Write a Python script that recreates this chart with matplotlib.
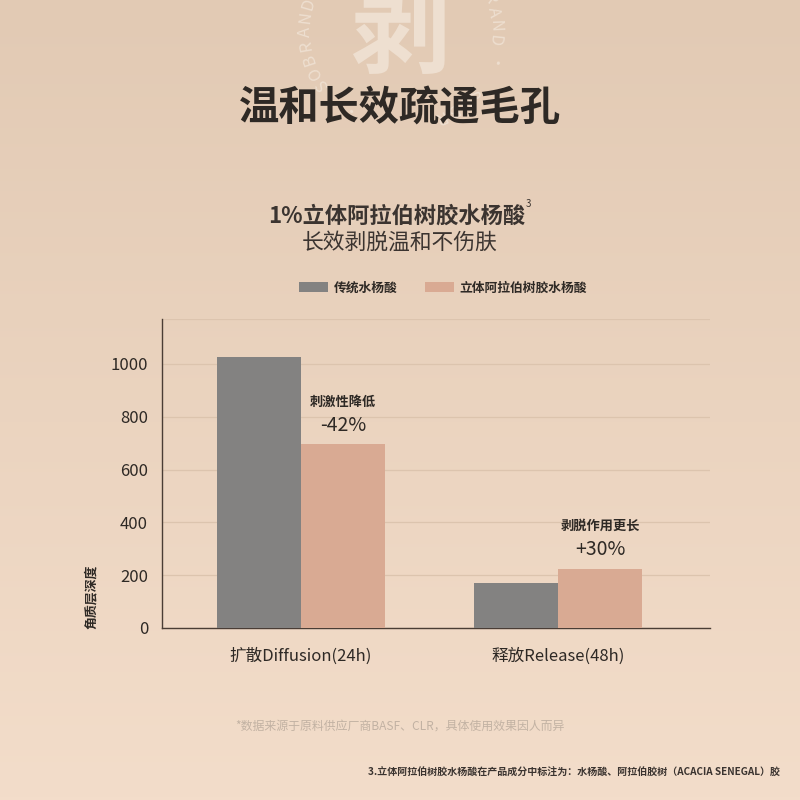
import matplotlib
matplotlib.use("Agg")
import matplotlib.pyplot as plt
import numpy as np

plt.rcParams['font.family'] = ['Noto Sans CJK SC', 'DejaVu Sans']

# data
groups = ["扩散Diffusion(24h)", "释放Release(48h)"]
series = ["传统水杨酸", "立体阿拉伯树胶水杨酸"]
traditional = [1025, 172]
arabic = [695, 224]
notes_top = ["刺激性降低", "剥脱作用更长"]
notes_pct = ["-42%", "+30%"]
yticks = [0, 200, 400, 600, 800, 1000]

gray = "#838281"
peach = "#d9aa93"
dark = "#2e2925"

fig = plt.figure(figsize=(8, 8), dpi=100)

# background gradient + decorations in pixel coords
bg = fig.add_axes([0, 0, 1, 1])
bg.set_xlim(0, 800)
bg.set_ylim(800, 0)
bg.axis("off")
top_c = np.array([226, 202, 180]) / 255
bot_c = np.array([243, 221, 202]) / 255
t = np.linspace(0, 1, 256)[:, None, None]
grad = top_c * (1 - t) + bot_c * t
grad = np.repeat(grad, 2, axis=1)
bg.imshow(grad, extent=[0, 800, 800, 0], aspect="auto", zorder=0)

# watermark (cut off at the top edge, like the original)
wm = "#eedfd0"
bg.text(400, 36, "剥", fontsize=72, fontweight="bold", color=wm,
        ha="center", va="center", zorder=1)
ring = "SOBRAND · "
cx, cy, r = 400, 30, 95
for i in range(-2, 34):
    th = np.deg2rad(215 - 8.5 * i)
    ch = ring[i % len(ring)]
    bg.text(cx + r * np.cos(th), cy - r * np.sin(th), ch, fontsize=12,
            color=wm, ha="center", va="center",
            rotation=np.rad2deg(th) - 90, zorder=1)

bg.text(400, 108, "温和长效疏通毛孔", fontsize=29, fontweight="bold",
        color=dark, ha="center", va="center", zorder=2)
bg.text(397, 216, "1%立体阿拉伯树胶水杨酸", fontsize=16, fontweight="bold",
        color="#3b3430", ha="center", va="center", zorder=2)
bg.text(526, 204, "3", fontsize=7, color="#3b3430", ha="left", va="center")
bg.text(400, 243, "长效剥脱温和不伤肤", fontsize=15.7, fontweight="light",
        color="#3b3430", ha="center", va="center", zorder=2)

bg.text(400, 726, "*数据来源于原料供应厂商BASF、CLR，具体使用效果因人而异", fontsize=8.6,
        fontweight="light", color="#c2b2a3", ha="center", va="center")
bg.text(780, 773, "3.立体阿拉伯树胶水杨酸在产品成分中标注为：水杨酸、阿拉伯胶树（ACACIA SENEGAL）胶",
        fontsize=7.2, fontweight="bold", color="#3b3430", ha="right", va="center")

# chart
ax = fig.add_axes([162 / 800, 1 - 628 / 800, (710 - 162) / 800, (628 - 319) / 800])
ax.set_facecolor("none")
x = np.arange(len(groups))
w = 0.327
b1 = ax.bar(x - w / 2, traditional, w, color=gray, label=series[0], zorder=3)
b2 = ax.bar(x + w / 2, arabic, w, color=peach, label=series[1], zorder=3)

for i in range(len(groups)):
    ax.text(x[i] + w / 2, arabic[i] + 163, notes_top[i], fontsize=9.5,
            fontweight="bold", color=dark, ha="center", va="center")
    ax.text(x[i] + w / 2, arabic[i] + 72, notes_pct[i], fontsize=14,
            color=dark, ha="center", va="center")

ax.set_xlim(-0.541, 1.591)
ax.set_ylim(0, 1170)
ax.set_yticks(yticks)
ax.set_xticks(x)
ax.set_xticklabels(groups, fontsize=12, color=dark)
ax.tick_params(axis="y", labelsize=12, colors=dark, length=0, pad=10)
ax.tick_params(axis="x", length=0, pad=14)
ax.grid(axis="y", color="#dcc4ae", linewidth=0.9, zorder=1)
ax.axhline(1170, color="#dcc4ae", linewidth=0.9, zorder=1)
for s in ["top", "right"]:
    ax.spines[s].set_visible(False)
for s in ["left", "bottom"]:
    ax.spines[s].set_color("#4a3d35")
    ax.spines[s].set_linewidth(1.0)
ax.set_ylabel("角质层深度", fontsize=9.3, fontweight="bold", color=dark)
ax.yaxis.set_label_coords(-0.118, 0.1)

fig.legend(handles=[b1, b2], labels=series, loc="center",
           bbox_to_anchor=(443 / 800, 1 - 288 / 800), ncol=2, frameon=False,
           prop={"size": 9.2, "weight": "bold"}, handlelength=2.3,
           handleheight=0.75, handletextpad=0.45, columnspacing=2.1,
           labelcolor=dark)

fig.savefig("out.png", dpi=100)
